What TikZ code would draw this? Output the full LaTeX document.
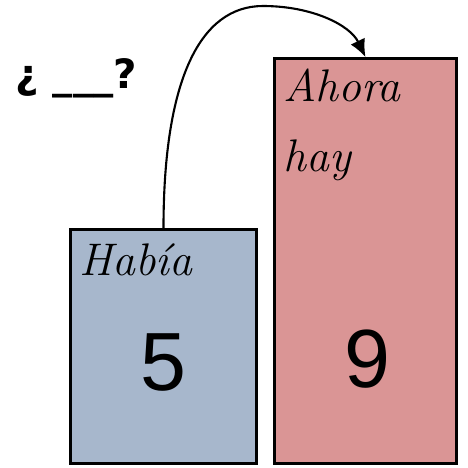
\documentclass[tikz,border=0pt]{standalone}
\usepackage{fontspec}
\newfontfamily\zifferfont{Liberation Sans}
\newfontfamily\fragefont{DejaVu Sans}
\usetikzlibrary{arrows.meta}
\definecolor{kastenblau}{RGB}{167,183,204}
\definecolor{kastenrot}{RGB}{218,149,149}
\begin{document}
\begin{tikzpicture}[x=0.02cm,y=-0.02cm,>={Latex[length=10pt,width=9pt]},
  kasten/.style={draw,line width=1.7pt,inner sep=0pt},
  schrift/.style={font=\fontsize{26}{28}\selectfont\itshape,inner sep=0pt,anchor=base west},
  zahl/.style={font=\fontsize{47}{50}\selectfont\zifferfont,inner sep=0pt,anchor=base}]
%
% Rahmen (468 x 468 px)
\useasboundingbox (0,0) rectangle (468,468);
%
% --- Frage oben links ---
\node[font=\fontsize{23}{28}\selectfont\bfseries\fragefont,inner sep=0pt,anchor=base west]
  (frage) at (15,88) {¿ \_\_\_?};
%
% --- linker Kasten: vorher ---
\node[kasten,fill=kastenblau,minimum width=3.72cm,minimum height=4.68cm]
  (habia) at (163.5,346.5) {};
\node[schrift] (habiatext) at (79,275) {Había};
\node[zahl] (fuenf) at (163.5,390) {5};
%
% --- rechter Kasten: nachher ---
\node[kasten,fill=kastenrot,minimum width=3.64cm,minimum height=8.1cm]
  (ahora) at (365.5,261) {};
\node[schrift] (ahoratext) at (283,101) {Ahora};
\node[schrift] (haytext) at (283,171) {hay};
\node[zahl] (neun) at (367,387) {9};
%
% Bogen von links nach rechts
\coordinate (scheitel) at (263,6);
\draw[->,line width=1.2pt] (habia.north) .. controls (163.5,80) and (200,6) .. (scheitel)
  .. controls (312,6) and (350,25) .. (ahora.north);
\end{tikzpicture}
\end{document}
